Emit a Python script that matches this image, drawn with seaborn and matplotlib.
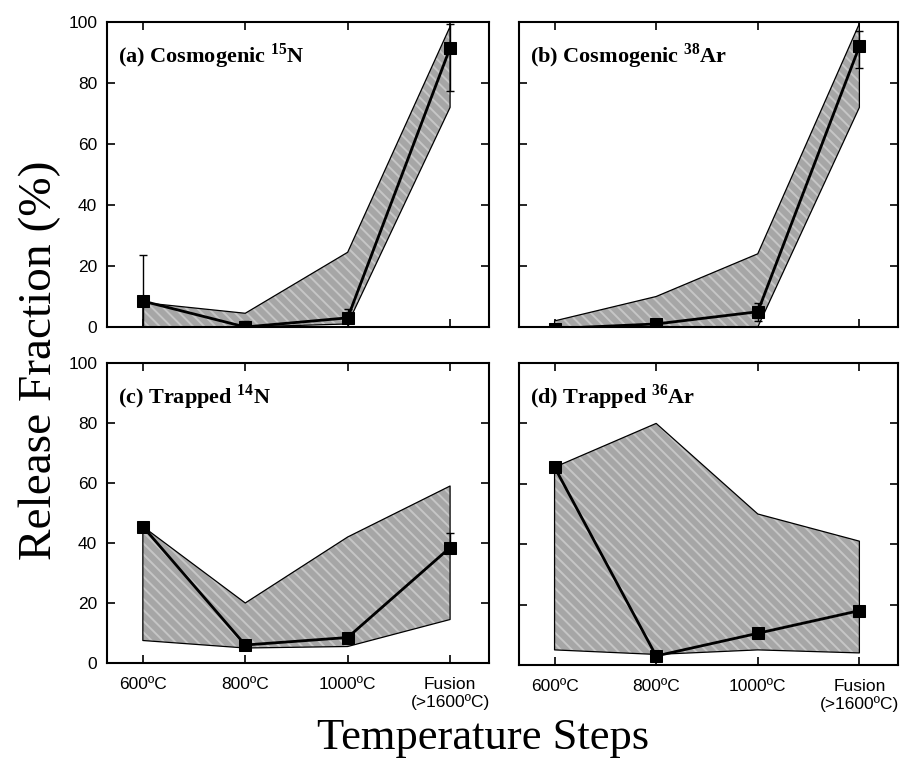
import numpy as np
import pandas as pd
import matplotlib
matplotlib.use("Agg")
import matplotlib.pyplot as plt
import seaborn as sns

sns.set_theme(style="white")
plt.rcParams['font.family'] = ['Liberation Sans', 'DejaVu Sans']
plt.rcParams['text.color'] = 'black'
plt.rcParams['axes.labelcolor'] = 'black'
plt.rcParams['mathtext.fontset'] = 'custom'
plt.rcParams['mathtext.rm'] = 'Liberation Serif:bold'
plt.rcParams['mathtext.bf'] = 'Liberation Serif:bold'
plt.rcParams['hatch.linewidth'] = 1.4

# ---- data ----
steps = ["600ºC", "800ºC", "1000ºC", "Fusion\n(>1600ºC)"]
titles = [r"(a) Cosmogenic $^{15}$N", r"(b) Cosmogenic $^{38}$Ar",
          r"(c) Trapped $^{14}$N", r"(d) Trapped $^{36}$Ar"]

a_vals = [8.5, 0.0, 3.0, 91.5]
a_err_lo = [8.5, 1.0, 3.0, 14.0]
a_err_hi = [15.0, 2.0, 3.0, 8.0]
a_band_lo = [0.0, 0.0, 1.0, 72.0]
a_band_hi = [8.0, 4.5, 24.5, 98.5]

b_vals = [-0.5, 1.0, 5.0, 92.0]
b_err_lo = [0.5, 1.0, 3.0, 7.0]
b_err_hi = [0.5, 1.0, 3.0, 5.0]
b_band_lo = [0.0, 0.0, 0.0, 72.0]
b_band_hi = [2.0, 10.0, 24.0, 99.5]

c_vals = [45.5, 6.0, 8.5, 38.5]
c_err_lo = [0.0, 0.0, 0.0, 0.0]
c_err_hi = [0.0, 0.0, 0.0, 5.0]
c_band_lo = [7.5, 5.0, 5.5, 14.5]
c_band_hi = [45.5, 20.0, 42.0, 59.0]

d_vals = [65.5, 3.0, 10.5, 18.0]
d_err_lo = [0.0, 0.0, 0.0, 0.0]
d_err_hi = [0.0, 0.0, 0.0, 0.0]
d_band_lo = [5.0, 3.5, 5.0, 4.0]
d_band_hi = [65.5, 80.0, 50.0, 41.0]

y_ticks = [0, 20, 40, 60, 80, 100]

panels = [
    (a_vals, a_err_lo, a_err_hi, a_band_lo, a_band_hi),
    (b_vals, b_err_lo, b_err_hi, b_band_lo, b_band_hi),
    (c_vals, c_err_lo, c_err_hi, c_band_lo, c_band_hi),
    (d_vals, d_err_lo, d_err_hi, d_band_lo, d_band_hi),
]

W, H = 901, 765
fig = plt.figure(figsize=(W / 100, H / 100), dpi=100)
boxes = [
    (107, 22, 489, 327),
    (519, 22, 898, 327),
    (107, 363, 489, 663),
    (519, 363, 898, 665),
]

xpos = np.arange(len(steps))
for i, (box, (vals, elo, ehi, blo, bhi)) in enumerate(zip(boxes, panels)):
    x0, y0, x1, y1 = box
    ax = fig.add_axes([x0 / W, 1 - y1 / H, (x1 - x0) / W, (y1 - y0) / H])
    ax.fill_between(xpos, blo, bhi, facecolor='#a6a6a6', edgecolor='#c6c6c6',
                    hatch='\\\\\\', linewidth=0, zorder=1)
    ax.fill_between(xpos, blo, bhi, facecolor='none', edgecolor='black',
                    linewidth=0.9, zorder=2)
    df = pd.DataFrame({"step": xpos, "value": vals})
    sns.lineplot(data=df, x="step", y="value", ax=ax, color='black',
                 linewidth=2.0, marker='s', markersize=8,
                 markeredgecolor='black', markerfacecolor='black', zorder=4)
    ax.errorbar(xpos, vals, yerr=[elo, ehi], fmt='none', ecolor='black',
                elinewidth=1.0, capsize=3, capthick=1.0, zorder=3)
    ax.set_xlim(-0.35, 3.38)
    ax.set_ylim(0, 100)
    ax.set_xticks(xpos)
    ax.set_yticks(y_ticks)
    ax.tick_params(direction='in', length=6, width=1.2, top=True, right=True,
                   bottom=True, left=True, labelsize=12.5, colors='black')
    ax.tick_params(axis='x', pad=10)
    ax.tick_params(axis='y', pad=7)
    if i >= 2:
        ax.set_xticklabels(steps, fontsize=12.5, linespacing=1.15)
    else:
        ax.set_xticklabels([])
    if i % 2 == 1:
        ax.set_yticklabels([])
    ax.set_xlabel("")
    ax.set_ylabel("")
    for s in ax.spines.values():
        s.set_color('black')
        s.set_linewidth(1.5)
    ax.text(0.028, 0.935, titles[i], transform=ax.transAxes, ha='left', va='top',
            fontsize=16, fontweight='bold', family='Liberation Serif',
            color='black')

fig.text(40 / W, 1 - 360 / H, "Release Fraction (%)", rotation=90,
         ha='center', va='center', fontsize=34, family='Liberation Serif',
         color='black')
fig.text(483 / W, 1 - 738 / H, "Temperature Steps", ha='center',
         va='center', fontsize=32, family='Liberation Serif', color='black')

fig.savefig("out.png", dpi=100, facecolor='white')
